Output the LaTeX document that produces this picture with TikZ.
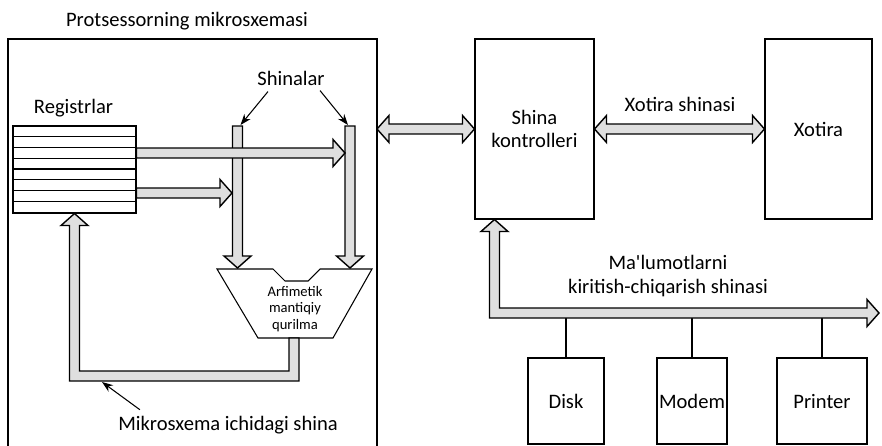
\documentclass[tikz,border=0pt]{standalone}
\usepackage{fontspec}
\setmainfont{Carlito}[Ligatures=TeXOff]
\usetikzlibrary{arrows.meta, positioning, calc}
\newlength{\pxu}\setlength{\pxu}{0.02cm}
\newlength{\buswd}\setlength{\buswd}{0.1cm}
\newlength{\bushw}\setlength{\bushw}{0.27cm}
\newlength{\bushl}\setlength{\bushl}{0.24cm}
\tikzset{
	unit/.style ={rectangle, draw=black, line width=0.6pt, inner sep=0pt, align=center},
	bus/.style  ={draw=black, line width=0.8pt, fill=gray!25, line join=miter},
	ptr/.style  ={-{Stealth[length=2.2mm, width=1.6mm]}, line width=0.6pt},
	lbl/.style  ={inner sep=0pt, align=center},
	small/.style={font=\fontsize{8.3}{9.3}\selectfont},
}
% wide bus arrows between two points
\newcommand{\busright}[2]{%
	\draw[bus] let \p1=(#1), \p2=(#2) in
		(\x1,\y1+\buswd) -- (\x2-\bushl,\y1+\buswd) -- (\x2-\bushl,\y1+\bushw) -- (\x2,\y1)
		-- (\x2-\bushl,\y1-\bushw) -- (\x2-\bushl,\y1-\buswd) -- (\x1,\y1-\buswd) -- cycle;}
\newcommand{\busdown}[2]{%
	\draw[bus] let \p1=(#1), \p2=(#2) in
		(\x1-\buswd,\y1) -- (\x1+\buswd,\y1) -- (\x1+\buswd,\y2+\bushl) -- (\x1+\bushw,\y2+\bushl)
		-- (\x1,\y2) -- (\x1-\bushw,\y2+\bushl) -- (\x1-\buswd,\y2+\bushl) -- cycle;}
\newcommand{\busboth}[2]{%
	\draw[bus] let \p1=(#1), \p2=(#2) in
		(\x1,\y1) -- (\x1+\bushl,\y1+\bushw) -- (\x1+\bushl,\y1+\buswd) -- (\x2-\bushl,\y1+\buswd)
		-- (\x2-\bushl,\y1+\bushw) -- (\x2,\y1) -- (\x2-\bushl,\y1-\bushw) -- (\x2-\bushl,\y1-\buswd)
		-- (\x1+\bushl,\y1-\buswd) -- (\x1+\bushl,\y1-\bushw) -- cycle;}

\begin{document}
\begin{tikzpicture}[x={(0.02cm,0cm)}, y={(0cm,-0.02cm)}, font=\fontsize{11.7}{13.4}\selectfont]
	\useasboundingbox (0,0) rectangle (882,446);
	% processor chip frame, open at the bottom
	\coordinate (cpuNW) at (8,39);
	\coordinate (cpuNE) at (377,39);
	\draw[line width=0.6pt] (8,446) -- (cpuNW) -- (cpuNE) -- (377,446);
	\node[lbl] (cpulbl) at (187,21) {Protsessorning mikrosxemasi};
	% registers
	\node[unit, minimum width=123\pxu, minimum height=87\pxu] (reg) at (74.5,169.5) {};
	\foreach \k in {1,...,7}
		\draw[line width=0.6pt] ($(reg.north west)+(0,\k*10.875)$) -- ($(reg.north east)+(0,\k*10.875)$);
	\node[lbl] (reglbl) at (73.5,108) {Registrlar};
	% ALU
	\draw[line width=0.6pt] (217,269) -- (273,269) -- (285,281) -- (308,281) -- (320,269) -- (372,269) -- (333,338) -- (258,338) -- cycle;
	\node[lbl, small] (alu) at (295,309) {Arfimetik\\mantiqiy\\qurilma};
	\coordinate (aluT) at (295,268);
	\coordinate (aluB) at (294,338);
	% buses inside the chip
	\coordinate (barA) at (237.5,126);
	\coordinate (barB) at (350,126);
	\busdown{barA}{barA |- aluT}
	\busdown{barB}{barB |- aluT}
	\coordinate (inB) at (345,153);
	\coordinate (inA) at (232,193);
	\busright{reg.east |- inB}{inB}
	\busright{reg.east |- inA}{inA}
	\coordinate (ibus) at (75,376);
	\draw[bus] let \p1=(aluB), \p2=(reg.south), \p3=(ibus) in
		(\x1+\buswd,\y1) -- (\x1+\buswd,\y3-\buswd) -- (\x2-\buswd,\y3-\buswd) -- (\x2-\buswd,\y2-\bushl)
		-- (\x2-\bushw,\y2-\bushl) -- (\x2,\y2) -- (\x2+\bushw,\y2-\bushl) -- (\x2+\buswd,\y2-\bushl)
		-- (\x2+\buswd,\y3+\buswd) -- (\x1-\buswd,\y3+\buswd) -- (\x1-\buswd,\y1) -- cycle;
	% labels with pointers
	\node[lbl] (shlbl) at (291,78) {Shinalar};
	\draw[ptr] ($(shlbl.south west)+(11,6)$) -- ($(barA)+(3,-1)$);
	\draw[ptr] ($(shlbl.south east)+(-5,5)$) -- ($(barB)+(-2,-1)$);
	\node[lbl] (mslbl) at (228,425) {Mikrosxema ichidagi shina};
	\draw[ptr] ($(mslbl.north west)+(22,-6)$) -- ($(ibus)+(27,6)$);
	% controller and memory
	\node[unit, minimum width=119\pxu, minimum height=180\pxu] (sk) at (534.5,129) {Shina\\kontrolleri};
	\node[unit, minimum width=107\pxu, minimum height=180\pxu] (xt) at (818.5,129) {Xotira};
	\busboth{cpuNE |- sk.west}{sk.west}
	\busboth{sk.east}{xt.west}
	\node[lbl] (xslbl) at (680,104) {Xotira shinasi};
	% input-output bus and devices
	\node[unit, minimum width=76\pxu, minimum height=86\pxu] (disk) at (566,401) {Disk};
	\node[unit, minimum width=70\pxu, minimum height=86\pxu] (modem) at (692,401) {Modem};
	\node[unit, minimum width=90\pxu, minimum height=86\pxu] (prn) at (822,401) {Printer};
	\coordinate (iotop) at ($(sk.south west)+(20,0)$);
	\coordinate (ioend) at (879,313);
	\foreach \d in {disk, modem, prn}
		\draw[line width=0.6pt] (\d.north) -- (\d.north |- ioend);
	\draw[bus] let \p1=(iotop), \p2=(ioend) in
		(\x1,\y1) -- (\x1+\bushw,\y1-\bushl) -- (\x1+\buswd,\y1-\bushl) -- (\x1+\buswd,\y2+\buswd)
		-- (\x2-\bushl,\y2+\buswd) -- (\x2-\bushl,\y2+\bushw) -- (\x2,\y2) -- (\x2-\bushl,\y2-\bushw)
		-- (\x2-\bushl,\y2-\buswd) -- (\x1-\buswd,\y2-\buswd) -- (\x1-\buswd,\y1-\bushl) -- (\x1-\bushw,\y1-\bushl) -- cycle;
	\node[lbl] (iolbl) at (668,276) {Ma'lumotlarni\\kiritish-chiqarish shinasi};
\end{tikzpicture}
\end{document}
